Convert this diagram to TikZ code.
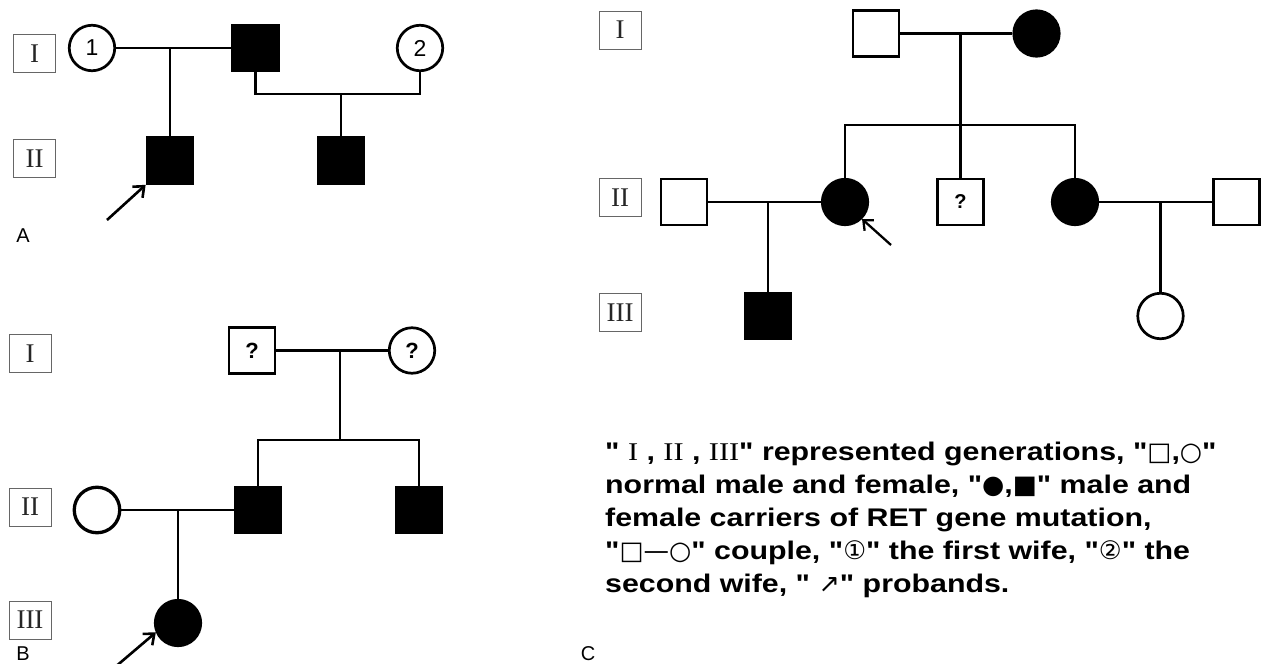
\documentclass[tikz,border=0pt]{standalone}
\usepackage{fontspec}
\setmainfont{Liberation Sans}
\newfontfamily\serifR{Liberation Serif}
\newfontfamily\djv{DejaVu Sans}
\usetikzlibrary{arrows.meta}
\newcommand{\romf}{\serifR\mdseries}
\newcommand{\symb}[1]{\scalebox{0.84}[1]{\djv\mdseries #1}}
\newcommand{\qq}{\textquotedbl}
\newcommand{\legline}[1]{\scalebox{1.19}[1]{#1}}
\begin{document}
\begin{tikzpicture}[x=1pt,y=-1pt,
  pl/.style={line width=2.7pt},
  plc/.style={line width=2.4pt},
  genbox/.style={draw=black!60, line width=1pt, minimum width=42pt, minimum height=38pt, inner sep=0pt, font=\serifR\fontsize{27}{27}\selectfont, text=black!85},
  male/.style={draw, line width=2.7pt, rectangle, minimum size=46pt, inner sep=0pt},
  female/.style={draw, line width=2.7pt, circle, minimum size=45.5pt, inner sep=0pt},
  aff/.style={fill=black},
  num/.style={font=\fontsize{23}{23}\selectfont},
  qm/.style={font=\bfseries\fontsize{22}{22}\selectfont},
  qmc/.style={font=\bfseries\fontsize{20}{20}\selectfont},
  panel/.style={font=\fontsize{20}{20}\selectfont, inner sep=0pt},
  proband/.style={line width=2.6pt, -{Straight Barb[length=9pt,width=15pt]}},
  probandc/.style={line width=2.3pt, -{Straight Barb[length=8pt,width=14pt]}},
  legend/.style={anchor=base west, inner sep=0pt, font=\bfseries\fontsize{25.5}{25.5}\selectfont}
]
\useasboundingbox (0,0) rectangle (1262,664);
\fill[white] (0,0) rectangle (1262,664);

% ---------------- Panel A ----------------
\node[genbox] (AgI) at (34.5,53.5) {I};
\node[genbox] (AgII) at (34.5,158.5) {II};
\node[female, num] (A1) at (92,48) {1};
\node[male, aff] (AF) at (255.5,48) {};
\node[female, num] (A2) at (420,48) {2};
\node[male, aff] (AII1) at (170,160.5) {};
\node[male, aff] (AII2) at (341,160.5) {};
\coordinate (mA1) at (170,48);
\coordinate (mA2) at (341,94);
\draw[pl] (A1) -- (AF);
\draw[pl] (mA1) -- (AII1);
\draw[pl] (AF.south) |- (mA2) -| (A2.south);
\draw[pl] (mA2) -- (AII2);
\coordinate (aA) at (107,220);
\draw[proband] (aA) -- (AII1.south west);
\node[panel] (labA) at (23,235.5) {A};

% ---------------- Panel B ----------------
\node[genbox] (BgI) at (30,353.5) {I};
\node[genbox] (BgII) at (30,507) {II};
\node[genbox] (BgIII) at (30,620) {III};
\node[male, qm] (B1) at (252,350.5) {?};
\node[female, qm] (B2) at (412,350.5) {?};
\coordinate (mB1) at (340,350.5);
\coordinate (sB) at (340,440);
\node[male, aff] (BII1) at (258,510) {};
\node[male, aff] (BII2) at (419,510) {};
\node[female, line width=3.3pt] (BII0) at (97,510) {};
\node[female, aff] (BIII) at (178,623) {};
\coordinate (mB2) at (178,510);
\draw[pl] (B1) -- (B2);
\draw[pl] (mB1) -- (sB);
\draw[pl] (BII1.north) |- (sB) -| (BII2.north);
\draw[pl] (BII0) -- (BII1);
\draw[pl] (mB2) -- (BIII);
\coordinate (aB) at (114,668);
\draw[proband] (aB) -- (BIII.203);
\node[panel] (labB) at (23,654) {B};

% ---------------- Panel C ----------------
\node[genbox] (CgI) at (620,30) {I};
\node[genbox] (CgII) at (620,197.5) {II};
\node[genbox] (CgIII) at (620,312.5) {III};
\node[male] (CI1) at (876,33.5) {};
\node[female, aff] (CI2) at (1036.5,33.5) {};
\coordinate (mC1) at (960.5,33.5);
\coordinate (sC) at (960.5,125);
\node[female, aff] (CII2) at (845,202) {};
\node[male, qmc] (CII3) at (960.5,202) {?};
\node[female, aff] (CII4) at (1075,202) {};
\node[male] (CII1) at (684,202) {};
\node[male] (CII5) at (1236.5,202) {};
\coordinate (mC2) at (768,202);
\coordinate (mC3) at (1160.5,202);
\node[male, aff] (CIII1) at (768,316) {};
\node[female] (CIII2) at (1160.5,316) {};
\draw[plc] (CI1) -- (CI2);
\draw[plc] (mC1) -- (CII3);
\draw[plc] (CII2.north) |- (sC) -| (CII4.north);
\draw[plc] (CII1) -- (CII2);
\draw[plc] (mC2) -- (CIII1);
\draw[plc] (CII4) -- (CII5);
\draw[plc] (mC3) -- (CIII2);
\coordinate (aC) at (891,245);
\draw[probandc] (aC) -- (CII2.-45);
\node[panel] (labC) at (588,654) {C};

% ---------------- Legend ----------------
\node[legend] (L1) at (605,460) {\legline{\qq\ {\romf I} , {\romf II} , {\romf III}\qq\ represented generations, \qq\symb{□},\symb{○}\qq}};
\node[legend] (L2) at (605,493) {\legline{normal male and female, \qq\symb{●},\symb{■}\qq\ male and}};
\node[legend] (L3) at (605,526) {\legline{female carriers of RET gene mutation,}};
\node[legend] (L4) at (605,559) {\legline{\qq\symb{□—○}\qq\ couple, \qq\symb{①}\qq\ the first wife, \qq\symb{②}\qq\ the}};
\node[legend] (L5) at (605,592) {\legline{second wife, \qq\ \symb{↗}\qq\ probands.}};
\end{tikzpicture}
\end{document}
